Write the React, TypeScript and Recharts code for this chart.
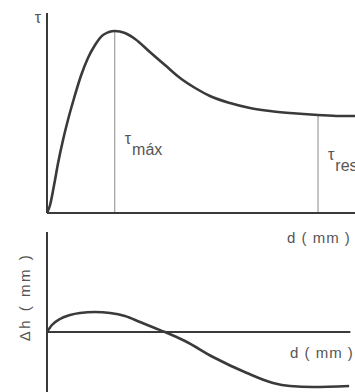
import { LineChart, Line, XAxis, YAxis, ReferenceLine, Label } from "recharts";

// shear stress curve, tau vs horizontal displacement d (arbitrary units)
const tauD = [0, 0.1, 0.23, 0.36, 0.52, 0.68, 0.88, 1.1, 1.33, 1.56, 1.82, 2.2, 2.53, 2.86, 3.34, 3.83, 4.32, 4.81, 5.29, 5.94, 6.59, 7.24, 7.89, 8.8, 9.51, 10];
const tauVals = [0, 4, 14, 25, 36.5, 46.5, 57.5, 68.5, 77.5, 84, 89, 91, 90, 87, 80.5, 74, 67.5, 62.5, 58.5, 55, 52.5, 51, 50, 49, 48.5, 48.5];

// vertical displacement curve, dh vs d
const dhD = [0, 0.16, 0.42, 0.75, 1.07, 1.56, 2.05, 2.53, 3.02, 3.5, 3.83, 4.48, 5.39, 6.49, 7.34, 7.89, 8.64, 9.81];
const dhVals = [0, 0.35, 0.65, 0.85, 0.95, 1.0, 0.95, 0.8, 0.5, 0.2, 0, -0.45, -1.25, -2.05, -2.55, -2.7, -2.75, -2.7];

const markerD = [2.2, 8.8];
const markerSubs = ["máx", "res"];
const markerLift = [69, 53];

const dLabel = "d ( mm )";
const tauLabel = "τ";
const dhLabel = "Δh ( mm )";

const FONT = "'Liberation Sans', Arial, sans-serif";
const TEXT = "#555";
const INK = "#3a3a3a";

const tauData = tauD.map((d, i) => ({ d, tau: tauVals[i] }));
const dhData = dhD.map((d, i) => ({ d, dh: dhVals[i] }));

const TauSub = ({ viewBox, sub, lift }: any) => {
  if (!viewBox) return null;
  return (
    <text
      x={viewBox.x + 10}
      y={viewBox.y + viewBox.height - lift}
      fill={TEXT}
      fontSize={16}
      fontFamily={FONT}
    >
      τ
      <tspan fontSize={16} dx={1} dy={11}>
        {sub}
      </tspan>
    </text>
  );
};

const TopXLabel = ({ viewBox }: any) => (
  <text
    x={viewBox.x + 240}
    y={viewBox.y + 30}
    fill={TEXT}
    fontSize={15}
    fontFamily={FONT}
    letterSpacing={1}
  >
    {dLabel}
  </text>
);

const TauYLabel = ({ viewBox }: any) => (
  <text
    x={viewBox.x + viewBox.width - 9}
    y={viewBox.y + 10}
    fill={TEXT}
    fontSize={16}
    fontFamily={FONT}
    textAnchor="middle"
  >
    {tauLabel}
  </text>
);

const DhYLabel = ({ viewBox }: any) => {
  const cx = 24;
  const cy = viewBox.y + 65;
  return (
    <text
      x={cx}
      y={cy}
      fill={TEXT}
      fontSize={15}
      fontFamily={FONT}
      letterSpacing={2.5}
      textAnchor="middle"
      dominantBaseline="central"
      transform={`rotate(-90, ${cx}, ${cy})`}
    >
      {dhLabel}
    </text>
  );
};

const ZeroLabel = ({ viewBox }: any) => (
  <text
    x={viewBox.x + 243}
    y={viewBox.y + 26}
    fill={TEXT}
    fontSize={15}
    fontFamily={FONT}
    letterSpacing={1}
  >
    {dLabel}
  </text>
);

export default function App() {
  return (
    <div style={{ position: "fixed", left: 0, top: 0, width: 355, height: 392, background: "#fff" }}>
      <div style={{ position: "absolute", left: 0, top: 0 }}>
        <LineChart width={355} height={250} data={tauData} margin={{ top: 13, right: 0, left: 0, bottom: 0 }}>
          <XAxis
            dataKey="d"
            type="number"
            domain={[0, 10]}
            allowDataOverflow
            height={37}
            tick={false}
            tickLine={false}
            axisLine={{ stroke: INK, strokeWidth: 2 }}
          >
            <Label content={<TopXLabel />} />
          </XAxis>
          <YAxis
            type="number"
            domain={[0, 100]}
            allowDataOverflow
            width={47}
            tick={false}
            tickLine={false}
            axisLine={{ stroke: INK, strokeWidth: 2 }}
          >
            <Label content={<TauYLabel />} />
          </YAxis>
          {markerD.map((md, i) => (
            <ReferenceLine
              key={md}
              segment={[
                { x: md, y: 0 },
                { x: md, y: tauVals[tauD.indexOf(md)] },
              ]}
              stroke="#8a8a8a"
              strokeWidth={1}
              ifOverflow="visible"
            >
              <Label content={<TauSub sub={markerSubs[i]} lift={markerLift[i]} />} />
            </ReferenceLine>
          ))}
          <Line
            dataKey="tau"
            type="monotone"
            stroke={INK}
            strokeWidth={2.6}
            dot={false}
            activeDot={false}
            isAnimationActive={false}
          />
        </LineChart>
      </div>
      <div style={{ position: "absolute", left: 0, top: 232 }}>
        <LineChart width={355} height={160} data={dhData} margin={{ top: 0, right: 0, left: 0, bottom: 0 }}>
          <XAxis dataKey="d" type="number" domain={[0, 10]} allowDataOverflow hide height={0} />
          <YAxis
            type="number"
            domain={[-3, 5]}
            allowDataOverflow
            width={47}
            tick={false}
            tickLine={false}
            axisLine={{ stroke: INK, strokeWidth: 2 }}
          >
            <Label content={<DhYLabel />} />
          </YAxis>
          <ReferenceLine
            segment={[
              { x: 0, y: 0 },
              { x: 9.85, y: 0 },
            ]}
            stroke={INK}
            strokeWidth={2}
            ifOverflow="visible"
          >
            <Label content={<ZeroLabel />} />
          </ReferenceLine>
          <Line
            dataKey="dh"
            type="monotone"
            stroke={INK}
            strokeWidth={2.6}
            dot={false}
            activeDot={false}
            isAnimationActive={false}
          />
        </LineChart>
      </div>
    </div>
  );
}
